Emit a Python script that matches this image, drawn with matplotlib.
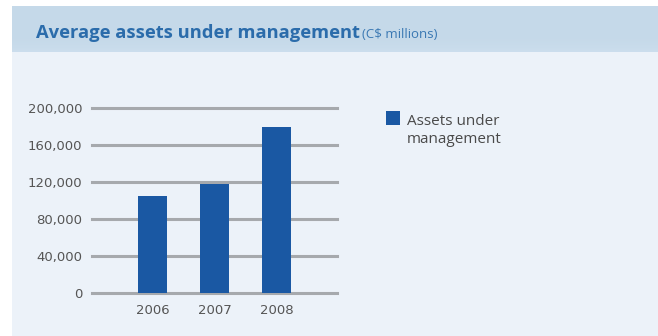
import matplotlib
matplotlib.use("Agg")
import matplotlib.pyplot as plt
from matplotlib.patches import Rectangle
from matplotlib.ticker import FuncFormatter
import numpy as np

years = ["2006", "2007", "2008"]
assets = [105000, 118500, 179500]
y_ticks = [0, 40000, 80000, 120000, 160000, 200000]
legend_label = "Assets under\nmanagement"
title_main = "Average assets under management"
title_unit = "(C$ millions)"

BAR_COLOR = "#1a58a3"
W, H = 658, 336
fig = plt.figure(figsize=(W / 100, H / 100), dpi=100, facecolor="white")

def fx(px):
    return px / W

def fy(py):
    return 1 - py / H

# panel background and title band
bg = fig.add_axes([fx(12), 0, fx(W - 12), fy(50)], zorder=-2)
bg.set_facecolor("#ecf2f9")
bg.set_xticks([])
bg.set_yticks([])
for s in bg.spines.values():
    s.set_visible(False)

band = fig.add_axes([fx(12), fy(52), fx(W - 12), fy(6) - fy(52)], zorder=-1)
grad = np.linspace(0, 1, 60).reshape(-1, 1)
top_c = np.array([0.773, 0.851, 0.914])
bot_c = np.array([0.80, 0.87, 0.93])
img = top_c + (bot_c - top_c) * grad[..., None] ** 6
band.imshow(img, aspect="auto", extent=[0, 1, 0, 1])
band.axis("off")

fig.text(fx(36), fy(38), title_main, fontsize=13.2, fontweight="bold",
         color="#2b6cab", family="Open Sans", ha="left", va="baseline")
fig.text(fx(362), fy(38), title_unit, fontsize=9.5, color="#3a78b3",
         family="Open Sans", ha="left", va="baseline")

ax = fig.add_axes([fx(92), fy(293.3), fx(337 - 92), fy(108.3) - fy(293.3)], zorder=2)
ax.set_facecolor("none")
x = np.arange(len(years))
bars = ax.bar(x, assets, width=0.47, color=BAR_COLOR, zorder=3)
ax.set_xlim(-0.98, 2.98)
ax.set_ylim(0, 200000)
ax.set_yticks(y_ticks)
ax.yaxis.set_major_formatter(FuncFormatter(lambda v, p: f"{int(v):,}"))
ax.set_xticks(x)
ax.set_xticklabels(years)
for t in y_ticks:
    ax.axhline(t, color="#a6a9ad", lw=2.2, zorder=1, clip_on=False)
for s in ax.spines.values():
    s.set_visible(False)
ax.tick_params(axis="both", length=0, labelsize=9.5, labelcolor="#555555")
ax.tick_params(axis="y", pad=7)
ax.tick_params(axis="x", pad=8)

# legend: swatch beside a two-line label
fig.patches.append(Rectangle((fx(386), fy(125)), fx(14), fy(111) - fy(125),
                             transform=fig.transFigure, facecolor=BAR_COLOR,
                             edgecolor="none", zorder=5))
fig.text(fx(407), fy(143), legend_label, fontsize=11, color="#4a4a4a",
         family="Open Sans", ha="left", va="baseline", linespacing=1.3)

fig.savefig("out.png", dpi=100, facecolor="white")
